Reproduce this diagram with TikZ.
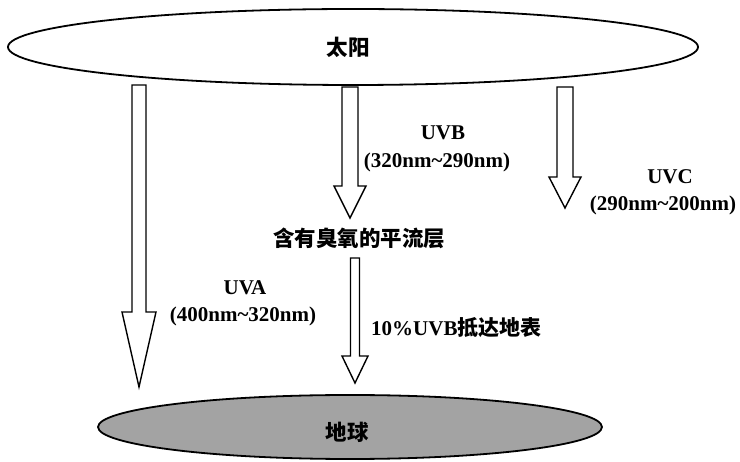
\documentclass[tikz,border=0pt]{standalone}
\usepackage{fontspec}
\setmainfont{Liberation Serif}
\newfontfamily\cjk{Noto Sans CJK SC}
\tikzset{
  lat/.style={font=\fontsize{21}{25}\selectfont\bfseries, inner sep=0pt},
  zh/.style={font=\fontsize{21.5}{25}\selectfont\cjk\bfseries, inner sep=0pt},
  blk/.style={draw=black, fill=white, line width=1.4pt, line join=miter},
  oval/.style={ellipse, draw=black, line width=1.8pt, inner sep=0pt},
}
\usetikzlibrary{shapes.geometric}
% #1 centre x, #2 top y, #3 shaft half width, #4 head top y, #5 head half width, #6 tip y
\newcommand\blkarrow[6]{%
  \draw[blk] (#1-#3,#2) -- (#1+#3,#2) -- (#1+#3,#4) -- (#1+#5,#4) -- (#1,#6)
    -- (#1-#5,#4) -- (#1-#3,#4) -- cycle;}
\begin{document}
\begin{tikzpicture}[x=1pt,y=-1pt]
\useasboundingbox (0,0) rectangle (740,462);
% sun
\node[oval, minimum width=690, minimum height=76, fill=white] (sun) at (353,47) {};
\node[zh] (sunt) at (348,47) {太阳};
% earth
\node[oval, minimum width=504, minimum height=64, fill=black!36] (earth) at (350,427) {};
\node[zh] (eartht) at (347,432) {地球};
% arrows
\blkarrow{139}{85}{7}{312}{17}{387}
\blkarrow{350}{87}{8}{186}{16}{218}
\blkarrow{565}{87}{8}{177}{16}{208}
\blkarrow{355}{258}{4.5}{356}{13}{383}
% labels
\node[lat] (uvb) at (443,133) {UVB};
\node[lat] (uvbr) at (437,162) {(320nm\textasciitilde 290nm)};
\node[lat] (uvc) at (670,177) {UVC};
\node[lat] (uvcr) at (663,205) {(290nm\textasciitilde 200nm)};
\node[lat] (uva) at (245,288) {UVA};
\node[lat] (uvar) at (243,316) {(400nm\textasciitilde 320nm)};
\node[zh] (strat) at (359,238) {含有臭氧的平流层};
\node[inner sep=0pt, anchor=west] (ten) at (371,328) {{\fontsize{21}{25}\selectfont\bfseries 10\%UVB}{\fontsize{21}{25}\selectfont\cjk\bfseries 抵达地表}};
\end{tikzpicture}
\end{document}
